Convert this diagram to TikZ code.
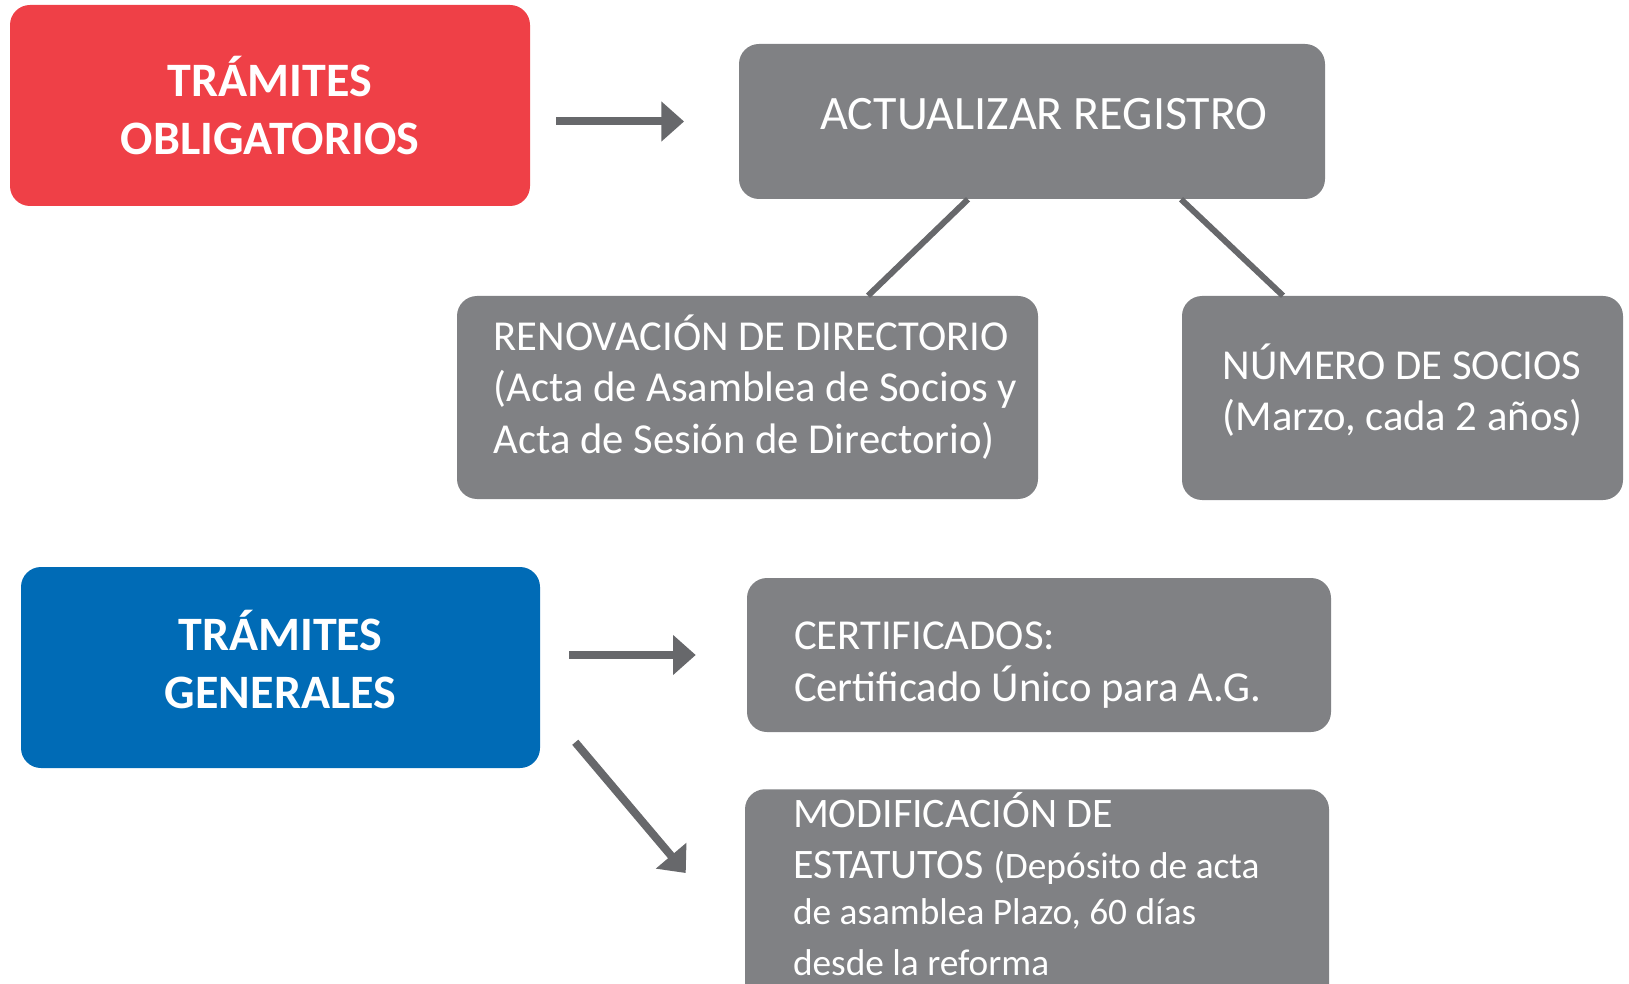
\documentclass[tikz,border=0pt]{standalone}
\usepackage{fontspec}
\setmainfont{Carlito}
\usetikzlibrary{arrows.meta}

\definecolor{rojo}{RGB}{239,64,71}
\definecolor{azul}{RGB}{0,107,182}
\definecolor{gris}{RGB}{128,129,132}
\definecolor{grisosc}{RGB}{103,104,107}

\begin{document}
\begin{tikzpicture}[x=0.75pt,y=0.75pt,yscale=-1,xscale=1,
	tramite/.style={rounded corners=15pt, text=white, align=center, font=\fontsize{36}{43}\selectfont\bfseries},
	caja/.style={fill=gris, rounded corners=15pt, text=white, align=flush left, font=\fontsize{32}{38.5}\selectfont},
	flecha/.style={draw=grisosc, line width=6pt, -{Triangle[length=17pt,width=29pt]}},
	rama/.style={draw=grisosc, line width=4.5pt}]
		\useasboundingbox (0,0) rectangle (1629,984);
		% tramites obligatorios
		\node [tramite, fill=rojo, minimum width=390pt, minimum height=150.75pt] (obl) at (270,105.5) {TRÁMITES\\OBLIGATORIOS};
		\node [caja, font=\fontsize{36}{42}\selectfont, minimum width=439.5pt, minimum height=116.25pt] (act) at (1032,121.5) {\hspace*{18pt}ACTUALIZAR REGISTRO\rule[-12pt]{0pt}{0pt}};
		\node [caja, minimum width=435.75pt, minimum height=152.25pt] (ren) at (747.5,397.5) {\hspace*{12pt}RENOVACIÓN DE DIRECTORIO\\\hspace*{12pt}(Acta de Asamblea de Socios y\\\hspace*{12pt}Acta de Sesión de Directorio)\rule[-20pt]{0pt}{0pt}};
		\node [caja, minimum width=330.75pt, minimum height=153pt] (num) at (1402.5,398) {NÚMERO DE SOCIOS\\(Marzo, cada 2 años)\rule[-16pt]{0pt}{0pt}};
		% tramites generales
		\node [tramite, fill=azul, minimum width=389.25pt, minimum height=150.75pt] (gen) at (280.5,667.5) {TRÁMITES\\GENERALES\rule[-12pt]{0pt}{0pt}};
		\node [caja, text width=367.5pt, inner xsep=35.25pt, minimum height=115.5pt] (cert) at (1039,655) {\rule{0pt}{36pt}CERTIFICADOS:\\Certificado Único para A.G.};
		\node [caja, anchor=north, text width=366pt, inner xsep=36pt, inner ysep=2pt] (modi) at (1037,789) {\fontsize{31.5}{39}\selectfont MODIFICACIÓN DE\\[4pt]ESTATUTOS \fontsize{28}{34.5}\selectfont(Depósito de acta\\de asamblea Plazo, 60 días\\desde la reforma\rule[-40pt]{0pt}{0pt}};
		% conectores
		\draw [flecha, shorten <=19.5pt, shorten >=41pt] (obl.east |- act.west) -- (act.west);
		\draw [rama] (act.south -| 968,0) -- (ren.north -| 868,0);
		\draw [rama] (act.south -| 1181,0) -- (num.north -| 1283,0);
		\draw [flecha, shorten <=21.75pt, shorten >=38.25pt] (gen.east |- cert.west) -- (cert.west);
		\draw [flecha] ([xshift=26.25pt,yshift=-19.5pt]gen.south east) -- ([xshift=-44.25pt,yshift=63pt]modi.north west);
\end{tikzpicture}
\end{document}
